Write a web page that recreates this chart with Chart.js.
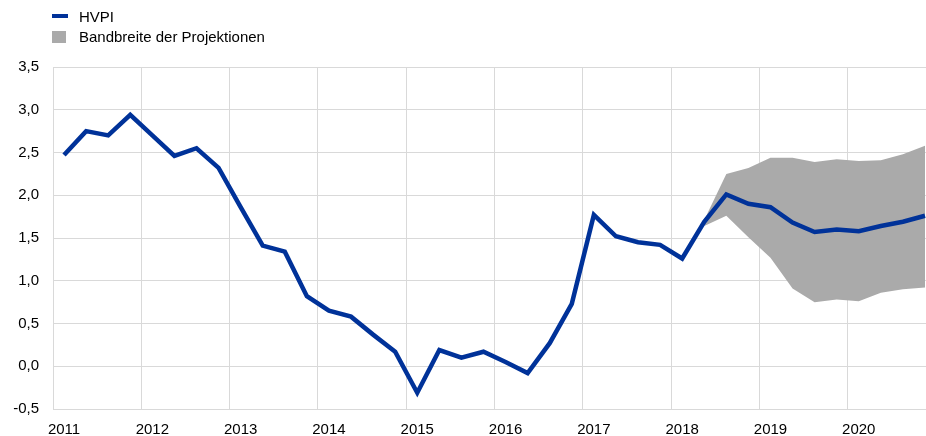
<!DOCTYPE html>
<html>
<head>
<meta charset="utf-8">
<script src="https://cdn.jsdelivr.net/npm/chart.js@4.4.1/dist/chart.umd.min.js"></script>
<style>
    html, body { margin: 0; padding: 0; background: #fff; overflow: hidden; }
    #wrap { position: relative; width: 937px; height: 436px; }
    .legend { font-family: "Liberation Sans", Arial, sans-serif; font-size: 15px; color: #000; }
    .sw { position: absolute; left: 52px; }
    .txt { position: absolute; left: 79px; line-height: 17px; white-space: nowrap; }
</style>
</head>
<body>
<div id="wrap">
    <canvas id="chart" width="937" height="436"></canvas>
    <div class="legend">
        <span class="sw" style="top: 14px; width: 16px; height: 4px; background: #003299;"></span>
        <span class="txt" style="top: 8px;">HVPI</span>
        <span class="sw" style="top: 31px; width: 14px; height: 12px; background: #aaaaaa;"></span>
        <span class="txt" style="top: 28px;">Bandbreite der Projektionen</span>
    </div>
</div>
<script>
// tick labels on the x axis (one per year, first quarter)
const years = ['2011', '2012', '2013', '2014', '2015', '2016', '2017', '2018', '2019', '2020'];
// quarterly categories
const quarters = years.flatMap(y => [y + ' Q1', y + ' Q2', y + ' Q3', y + ' Q4']);

// HVPI, year-on-year change in %
const hvpi = [2.47, 2.75, 2.70, 2.94, 2.70, 2.46, 2.55, 2.32,
    1.86, 1.41, 1.34, 0.82, 0.65, 0.58, 0.37, 0.17,
    -0.31, 0.19, 0.10, 0.17, 0.05, -0.08, 0.27, 0.73,
    1.77, 1.52, 1.45, 1.42, 1.26, 1.69, 2.01, 1.90,
    1.86, 1.68, 1.57, 1.60, 1.58, 1.64, 1.69, 1.76];

// range of the projections
const bandUpper = [null, null, null, null, null, null, null, null,
    null, null, null, null, null, null, null, null,
    null, null, null, null, null, null, null, null,
    null, null, null, null, null, 1.71, 2.25, 2.32,
    2.44, 2.44, 2.39, 2.42, 2.40, 2.41, 2.48, 2.58];
const bandLower = [null, null, null, null, null, null, null, null,
    null, null, null, null, null, null, null, null,
    null, null, null, null, null, null, null, null,
    null, null, null, null, null, 1.64, 1.76, 1.51,
    1.27, 0.91, 0.75, 0.78, 0.76, 0.86, 0.90, 0.92];

const yTicks = [-0.5, 0, 0.5, 1, 1.5, 2, 2.5, 3, 3.5];

const gridColor = '#d9d9d9';
const font = { family: '"Liberation Sans", Arial, sans-serif', size: 15 };

new Chart(document.getElementById('chart'), {
    type: 'line',
    data: {
        labels: quarters,
        datasets: [{
            label: 'HVPI',
            data: hvpi,
            borderColor: '#003299',
            borderWidth: 4.5,
            pointRadius: 0,
            fill: false,
            tension: 0
        }, {
            label: 'Bandbreite der Projektionen',
            data: bandUpper,
            borderWidth: 0,
            borderColor: 'rgba(0,0,0,0)',
            backgroundColor: '#aaaaaa',
            pointRadius: 0,
            fill: '+1',
            tension: 0
        }, {
            label: 'lower',
            data: bandLower,
            borderWidth: 0,
            borderColor: 'rgba(0,0,0,0)',
            pointRadius: 0,
            fill: false,
            tension: 0
        }]
    },
    options: {
        responsive: false,
        animation: false,
        layout: { padding: { top: 67, left: 0, right: 0, bottom: 0 } },
        plugins: {
            legend: { display: false },
            tooltip: { enabled: false }
        },
        scales: {
            x: {
                offset: true,
                grid: {
                    offset: true,
                    drawTicks: false,
                    color: ctx => (ctx.index !== undefined && ctx.index % 4 === 0) ? gridColor : 'rgba(0,0,0,0)'
                },
                border: { color: gridColor },
                ticks: {
                    autoSkip: false,
                    maxRotation: 0,
                    padding: 12,
                    color: '#000',
                    font: font,
                    callback: (v, i) => i % 4 === 0 ? years[i / 4] : ''
                },
                afterFit: axis => { axis.height = 27; }
            },
            y: {
                min: yTicks[0],
                max: yTicks[yTicks.length - 1],
                afterBuildTicks: axis => { axis.ticks = yTicks.map(v => ({ value: v })); },
                grid: { color: gridColor, drawTicks: false },
                border: { color: gridColor },
                ticks: {
                    padding: 14,
                    color: '#000',
                    font: font,
                    callback: v => v.toFixed(1).replace('.', ',')
                },
                afterFit: axis => { axis.width = 53; }
            }
        }
    }
});
</script>
</body>
</html>
